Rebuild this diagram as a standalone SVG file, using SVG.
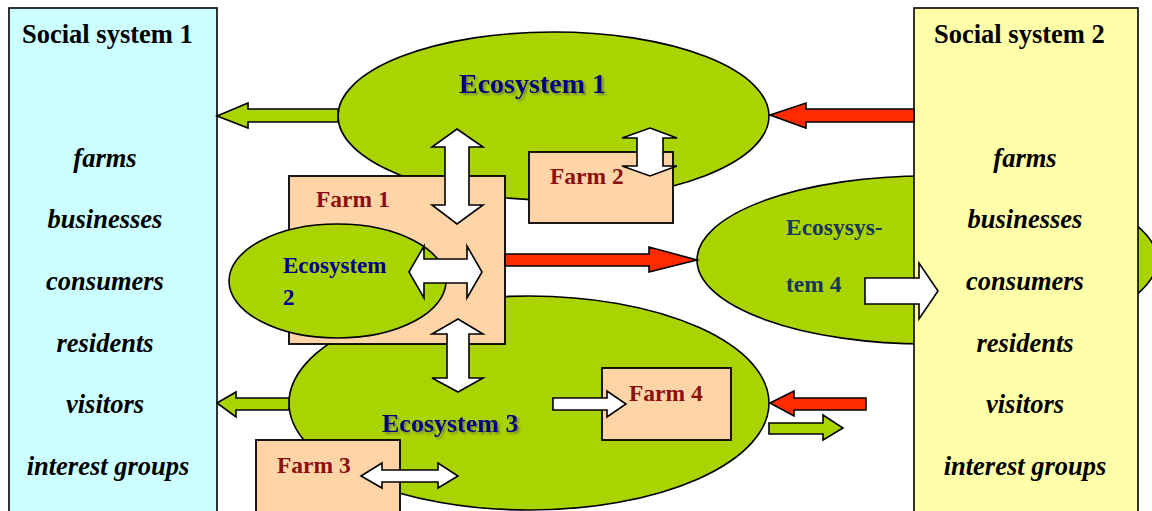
<svg xmlns="http://www.w3.org/2000/svg" width="1152" height="511" viewBox="0 0 1152 511">
<defs>
<filter id="sh" x="-10%" y="-30%" width="120%" height="160%">
<feDropShadow dx="2" dy="2" stdDeviation="1.2" flood-color="#555" flood-opacity="0.6"/>
</filter>
</defs>
<style>
.eco{fill:#AAD400;stroke:#000;stroke-width:1.6}
.farm{fill:#FFD5A8;stroke:#000;stroke-width:1.8}
.ssl{fill:#CCFFFF;stroke:#000;stroke-width:1.6}
.ssr{fill:#FFFFAA;stroke:#000;stroke-width:1.6}
.title{font-family:"Liberation Serif","Times New Roman",serif;font-weight:bold;font-size:26.5px;fill:#000}
.item{font-family:"Liberation Serif","Times New Roman",serif;font-weight:bold;font-style:italic;font-size:26.5px;fill:#000;text-anchor:middle}
.ecobig{font-family:"Liberation Serif","Times New Roman",serif;font-weight:bold;fill:#000080;filter:url(#sh)}
.ecosm{font-family:"Liberation Serif","Times New Roman",serif;font-weight:bold;font-size:23px;fill:#000090}
.eco4t{font-family:"Liberation Serif","Times New Roman",serif;font-weight:bold;font-size:23.5px;fill:#17375E}
.farmt{font-family:"Liberation Serif","Times New Roman",serif;font-weight:bold;font-size:23.5px;fill:#8B0F0F}
.aw{fill:#fff;stroke:#000;stroke-width:1.6;stroke-linejoin:miter}
.ag{fill:#AAD400;stroke:#000;stroke-width:1.6}
.ar{fill:#FF2A00;stroke:#000;stroke-width:1.6}
</style>

<g id="social-system-1">
<rect class="ssl" x="9" y="8" width="208" height="510"/>
<text class="title" x="22" y="43">Social system 1</text>
<text class="item" x="105" y="167">farms</text>
<text class="item" x="105" y="228">businesses</text>
<text class="item" x="105" y="290">consumers</text>
<text class="item" x="105" y="352">residents</text>
<text class="item" x="105" y="413">visitors</text>
<text class="item" x="108" y="475">interest groups</text>
</g>

<g id="ecosystem-4">
<ellipse class="eco" cx="927" cy="260" rx="230" ry="84"/>
<text class="eco4t" x="786" y="235">Ecosysys-</text>
<text class="eco4t" x="786" y="292">tem 4</text>
</g>

<g id="ecosystem-1">
<ellipse class="eco" cx="553.5" cy="116" rx="215.5" ry="84"/>
<text class="ecobig" x="459" y="93" font-size="28">Ecosystem 1</text>
</g>

<g id="ecosystem-3">
<ellipse class="eco" cx="529" cy="403" rx="240" ry="107"/>
<text class="ecobig" x="382" y="432" font-size="26">Ecosystem 3</text>
</g>

<g id="farm-1">
<rect class="farm" x="289" y="176" width="216" height="168"/>
<text class="farmt" x="316" y="207">Farm 1</text>
</g>

<g id="farm-2">
<rect class="farm" x="529" y="152" width="144" height="71"/>
<text class="farmt" x="550" y="184">Farm 2</text>
</g>

<g id="ecosystem-2">
<ellipse class="eco" cx="337.5" cy="281" rx="108.5" ry="57"/>
<text class="ecosm" x="283" y="273">Ecosystem</text>
<text class="ecosm" x="283" y="305">2</text>
</g>

<g id="farm-3">
<rect class="farm" x="256" y="440" width="144" height="80"/>
<text class="farmt" x="277" y="473">Farm 3</text>
</g>

<g id="farm-4">
<rect class="farm" x="602" y="368" width="129" height="72"/>
<text class="farmt" x="629" y="401">Farm 4</text>
</g>

<g id="social-system-2">
<rect class="ssr" x="914" y="8" width="224" height="510"/>
<text class="title" x="934" y="43">Social system 2</text>
<text class="item" x="1025" y="167">farms</text>
<text class="item" x="1025" y="228">businesses</text>
<text class="item" x="1025" y="290">consumers</text>
<text class="item" x="1025" y="352">residents</text>
<text class="item" x="1025" y="413">visitors</text>
<text class="item" x="1025" y="475">interest groups</text>
</g>

<g id="connectors">
<polygon class="ag" points="217,116 248,103 248,109 338,109 338,122 248,122 248,128"/>
<polygon class="ar" points="770,115 806,103 806,109 914,109 914,122 806,122 806,128"/>
<polygon class="aw" points="457,129 483,147 469,147 469,205 483,205 457,224 432,205 445,205 445,147 432,147"/>
<polygon class="aw" points="650,128 677,138 663,138 663,166 677,166 650,176 622,166 637,166 637,138 622,138"/>
<polygon class="aw" points="409,272 424,246 424,259 467,259 467,246 482,272 467,298 467,283 424,283 424,298"/>
<polygon class="aw" points="458,319 483,334 469,334 469,378 483,378 458,392 432,378 447,378 447,334 432,334"/>
<polygon class="ar" points="505,254 649,254 649,247 697,260 649,272 649,266 505,266"/>
<polygon class="ag" points="217,403 236,392 236,398 289,398 289,410 236,410 236,417"/>
<polygon class="aw" points="553,398 607,398 607,391 626,404 607,417 607,410 553,410"/>
<polygon class="ar" points="770,403 794,391 794,398 866,398 866,410 794,410 794,416"/>
<polygon class="ag" points="769,423 823,423 823,415 843,428 823,440 823,434 769,434"/>
<polygon class="aw" points="361,476 382,463 382,470 438,470 438,463 458,476 438,488 438,482 382,482 382,488"/>
<polygon class="aw" points="865,278 919,278 919,263 938,291 919,319 919,304 865,304"/>
</g>
</svg>
